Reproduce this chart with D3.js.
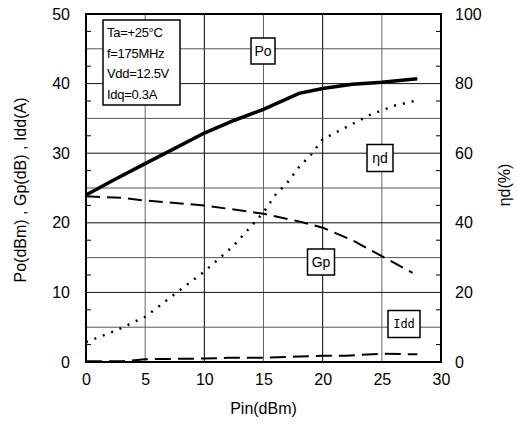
<!DOCTYPE html>
<html>
<head>
<meta charset="utf-8">
<script src="https://cdn.jsdelivr.net/npm/d3@7"></script>
<style>
	body { margin:0; background:#fff; }
	svg text { font-family:"Liberation Sans", Arial, sans-serif; fill:#000; }
</style>
</head>
<body>
<div id="chart"></div>
<script>

var pinTicks = [0, 5, 10, 15, 20, 25, 30];
var leftTicks = [0, 10, 20, 30, 40, 50];
var rightTicks = [0, 20, 40, 60, 80, 100];

var poData = [[0,24],[2.5,26.3],[5,28.5],[7.5,30.7],[10,32.9],[12.5,34.7],[15,36.3],[18,38.6],[20,39.3],[22.5,39.9],[25,40.2],[28,40.7]];
var gpData = [[0,23.8],[3,23.6],[5,23.2],[10,22.5],[15,21.3],[18,20.2],[20,19.3],[22.5,17.5],[25,15.2],[27.6,12.8]];
var etaData = [[0,5.7],[2.5,9],[5,13],[7.5,19.5],[10,26],[12.5,33.5],[15,43],[16,48],[17,51.5],[18,56],[19,59.5],[20,64],[22,67.5],[24,71],[26,73.6],[28,75.2]];
var iddData = [[0,0.1],[3,0.1],[5,0.4],[10,0.5],[12,0.6],[15,0.6],[18,0.8],[20,0.9],[22,0.9],[25,1.2],[28,1.1]];

var condLines = ["Ta=+25°C", "f=175MHz", "Vdd=12.5V", "Idq=0.3A"];


var CH = (function(CH)
{
	CH.init = function()
	{
		var svg = d3.select("#chart").append("svg")
		.attr("width", 517)
		.attr("height", 427);

		var x = d3.scaleLinear().domain([0, 30]).range([86, 441]);
		var yL = d3.scaleLinear().domain([0, 50]).range([362, 14]);
		var yR = d3.scaleLinear().domain([0, 100]).range([362, 14]);

		// grid
		var grid = svg.append("g").attr("class", "grid");
		d3.range(5, 30, 5).forEach(function(v)
		{
			grid.append("line")
			.attr("x1", x(v)).attr("x2", x(v))
			.attr("y1", yL(0)).attr("y2", yL(50))
			.attr("stroke", v % 10 == 0 ? "#000" : "#666")
			.attr("stroke-width", 1);
		});
		d3.range(5, 50, 5).forEach(function(v)
		{
			grid.append("line")
			.attr("x1", x(0)).attr("x2", x(30))
			.attr("y1", yL(v)).attr("y2", yL(v))
			.attr("stroke", v % 10 == 0 ? "#111" : "#555")
			.attr("stroke-width", 1);
		});

		// minor ticks on side borders
		d3.range(2.5, 50, 5).forEach(function(v)
		{
			grid.append("line")
			.attr("x1", x(0)).attr("x2", x(0) + 5)
			.attr("y1", yL(v)).attr("y2", yL(v))
			.attr("stroke", "#000");
			grid.append("line")
			.attr("x1", x(30) - 5).attr("x2", x(30))
			.attr("y1", yL(v)).attr("y2", yL(v))
			.attr("stroke", "#000");
		});

		svg.append("rect")
		.attr("x", x(0)).attr("y", yL(50))
		.attr("width", x(30) - x(0))
		.attr("height", yL(0) - yL(50))
		.attr("fill", "none")
		.attr("stroke", "#000")
		.attr("stroke-width", 2);

		// axes
		var xAxis = d3.axisBottom(x).tickValues(pinTicks).tickSize(0).tickPadding(12);
		var gx = svg.append("g").attr("transform", "translate(0," + yL(0) + ")").call(xAxis);
		var lAxis = d3.axisLeft(yL).tickValues(leftTicks).tickSize(0).tickPadding(16);
		var gl = svg.append("g").attr("transform", "translate(" + x(0) + ",0)").call(lAxis);
		var rAxis = d3.axisRight(yR).tickValues(rightTicks).tickSize(0).tickPadding(14);
		var gr = svg.append("g").attr("transform", "translate(" + x(30) + ",0)").call(rAxis);
		[gx, gl, gr].forEach(function(g)
		{
			g.select(".domain").remove();
			g.selectAll("text").style("font-size", "16px").style("font-family", "Liberation Sans, Arial, sans-serif");
		});

		svg.append("text")
		.attr("x", (x(0) + x(30)) / 2).attr("y", 414)
		.attr("text-anchor", "middle")
		.style("font-size", "16px")
		.text("Pin(dBm)");

		svg.append("text")
		.attr("transform", "translate(26,190) rotate(-90)")
		.attr("text-anchor", "middle")
		.style("font-size", "16px")
		.text("Po(dBm) , Gp(dB) , Idd(A)");

		svg.append("text")
		.attr("transform", "translate(510,185) rotate(-90)")
		.attr("text-anchor", "middle")
		.style("font-size", "16px")
		.text("ηd(%)");

		// series
		var lineL = d3.line().x(function(d) { return x(d[0]); }).y(function(d) { return yL(d[1]); });
		var lineR = d3.line().x(function(d) { return x(d[0]); }).y(function(d) { return yR(d[1]); });

		svg.append("path").attr("d", lineL(poData))
		.attr("fill", "none").attr("stroke", "#000").attr("stroke-width", 3.5);

		svg.append("path").attr("d", lineL(gpData))
		.attr("fill", "none").attr("stroke", "#000").attr("stroke-width", 2)
		.attr("stroke-dasharray", "14,7");

		svg.append("path").attr("d", lineR(etaData))
		.attr("fill", "none").attr("stroke", "#000").attr("stroke-width", 2.5)
		.attr("stroke-dasharray", "2,7");

		svg.append("path").attr("d", lineL(iddData))
		.attr("fill", "none").attr("stroke", "#000").attr("stroke-width", 2)
		.attr("stroke-dasharray", "16,7");

		// condition box
		svg.append("rect")
		.attr("x", 103).attr("y", 20).attr("width", 77).attr("height", 85)
		.attr("fill", "#fff").attr("stroke", "#000").attr("stroke-width", 1.5);
		condLines.forEach(function(t, i)
		{
			svg.append("text")
			.attr("x", 107).attr("y", 37 + i * 20.5)
			.style("font-size", "13px")
			.style("letter-spacing", "-0.3px")
			.text(t);
		});

		// series labels
		CH.label(svg, "Po", 263, 51, 24, 26, "14px", "Liberation Sans");
		CH.label(svg, "ηd", 380, 158, 26, 27, "14px", "Liberation Sans");
		CH.label(svg, "Gp", 321, 262, 27, 26, "14px", "Liberation Sans");
		CH.label(svg, "Idd", 404, 324, 32, 27, "12px", "DejaVu Sans Mono");
	}

	CH.label = function(svg, txt, cx, cy, w, h, fs, ff)
	{
		svg.append("rect")
		.attr("x", cx - w / 2).attr("y", cy - h / 2)
		.attr("width", w).attr("height", h)
		.attr("fill", "#fff").attr("stroke", "#000").attr("stroke-width", 1.5);

		svg.append("text")
		.attr("x", cx).attr("y", cy)
		.attr("dy", "0.36em")
		.attr("text-anchor", "middle")
		.style("font-size", fs)
		.style("font-family", ff)
		.text(txt);
	}

	return CH;

}(CH || {}));

CH.init();
</script>
</body>
</html>
